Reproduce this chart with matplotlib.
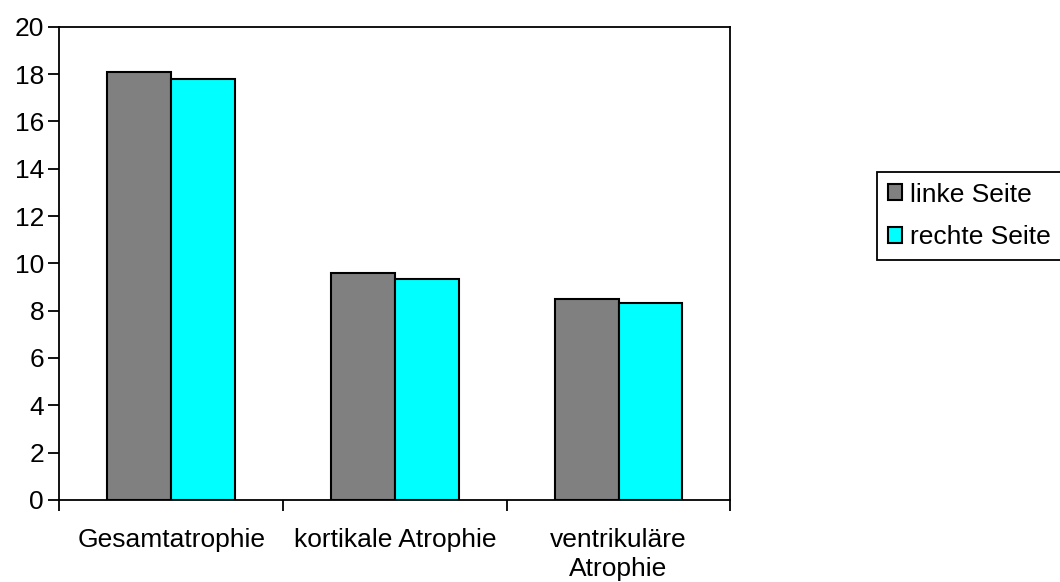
import matplotlib
matplotlib.use('Agg')
import matplotlib.pyplot as plt
import numpy as np

plt.rcParams['font.family'] = ['Liberation Sans', 'DejaVu Sans']
plt.rcParams.update({'font.size': 19})

categories = ['Gesamtatrophie', 'kortikale Atrophie', 'ventrikuläre\nAtrophie']
linke_seite = [18.07, 9.60, 8.50]
rechte_seite = [17.80, 9.34, 8.34]
series_names = ['linke Seite', 'rechte Seite']

fig = plt.figure(figsize=(10.6, 5.82), dpi=100)
ax = fig.add_axes([0.056, 0.141, 0.633, 0.813])

x = np.arange(len(categories))
w = 64 / 224
ax.bar(x - w / 2, linke_seite, w, color='#808080', edgecolor='black', linewidth=1.5, label=series_names[0])
ax.bar(x + w / 2, rechte_seite, w, color='#00FFFF', edgecolor='black', linewidth=1.5, label=series_names[1])

ax.set_xlim(-0.5, len(categories) - 0.5)
ax.set_ylim(0, 20)
ax.set_yticks(np.arange(0, 21, 2))

# category boundaries carry the tick marks, labels sit in between
ax.set_xticks(np.arange(-0.5, len(categories), 1))
ax.set_xticklabels([])
ax.set_xticks(x, minor=True)
ax.set_xticklabels(categories, minor=True, linespacing=1.3)
ax.tick_params(axis='x', which='minor', length=0, pad=20)
ax.tick_params(axis='both', which='major', direction='out', length=8, width=1.3, colors='black')
ax.tick_params(axis='y', pad=3)

for s in ax.spines.values():
    s.set_linewidth(1.3)
    s.set_color('black')

leg = fig.legend(loc='upper left', bbox_to_anchor=(877 / 1060, 1 - 172 / 582),
                 frameon=True, fancybox=False, edgecolor='black', framealpha=1,
                 handlelength=0.55, handleheight=0.55, handletextpad=0.3,
                 borderpad=0.4, labelspacing=0.7, borderaxespad=0)
leg.get_frame().set_linewidth(1.3)

fig.savefig('out.png', dpi=100)
